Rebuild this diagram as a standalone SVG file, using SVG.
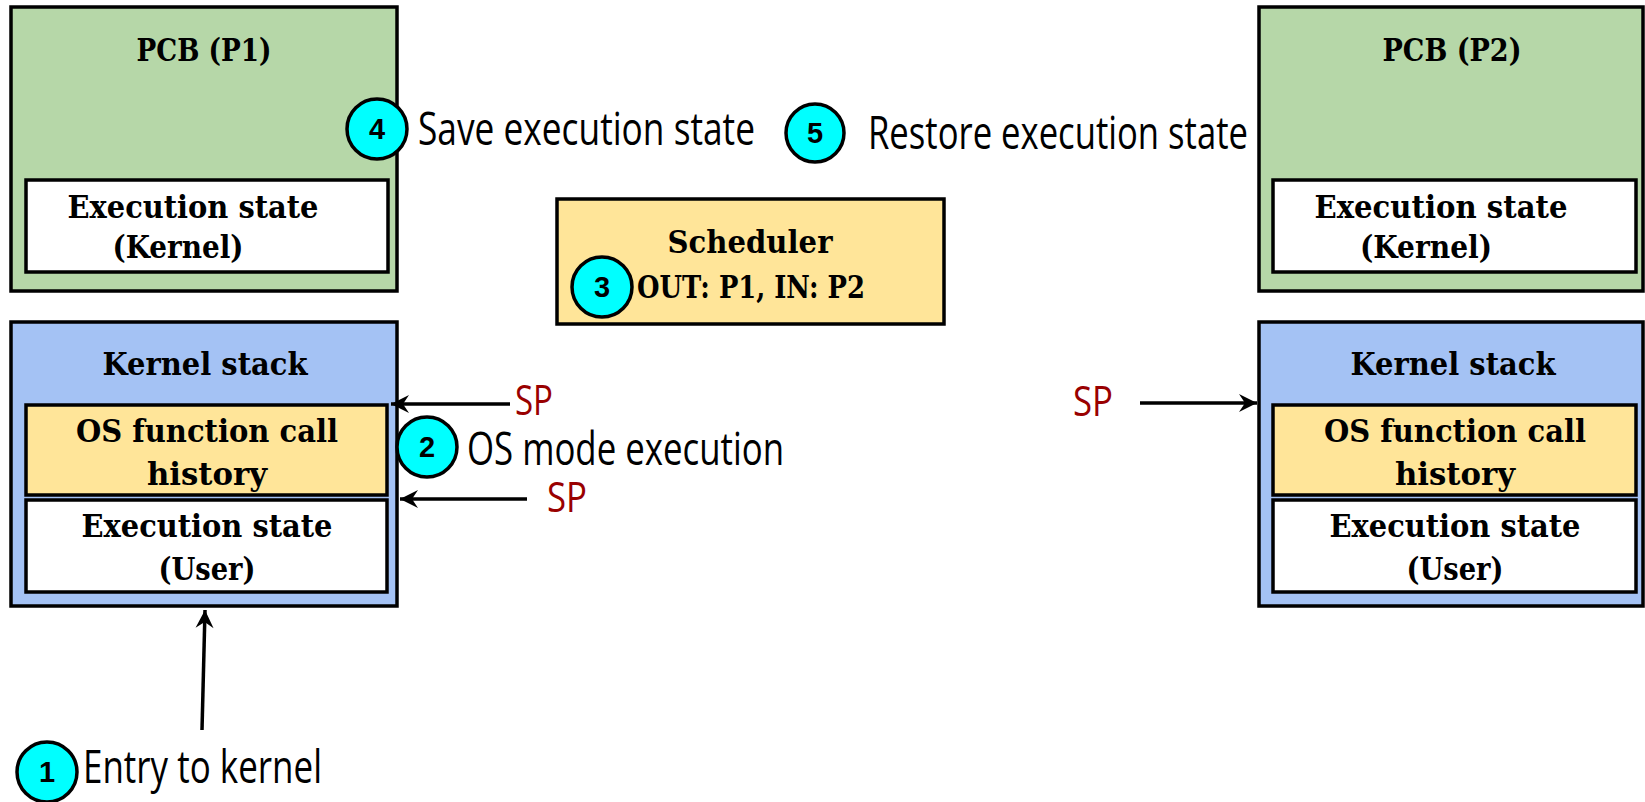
<svg xmlns="http://www.w3.org/2000/svg" width="1645" height="802" viewBox="0 0 1645 802">
<style>
.box{stroke:#000;stroke-width:3.5}
.pcb{fill:#b6d7a8}
.stk{fill:#a4c2f4}
.yel{fill:#ffe599}
.wht{fill:#fff}
.t{font-family:"DejaVu Serif",serif;font-weight:bold;font-size:31px;fill:#000;text-anchor:middle}
.c{font-family:"Open Sans","DejaVu Sans",sans-serif;font-weight:400;font-size:46px;fill:#000}
.sp{font-family:"Open Sans","DejaVu Sans",sans-serif;font-weight:400;font-size:42px;fill:#990000}
.num circle{fill:#00ffff;stroke:#000;stroke-width:3.5}
.num text{font-family:"Liberation Sans",Arial,sans-serif;font-weight:bold;font-size:29px;fill:#000;text-anchor:middle}
.arr{stroke:#000;stroke-width:3.5;fill:none;marker-end:url(#ah)}
</style>
<defs>
<marker id="ah" markerUnits="userSpaceOnUse" markerWidth="24" markerHeight="24" viewBox="-20 -12 24 24" refX="0" refY="0" orient="auto">
<path d="M0,0 L-18,-9 L-12,0 L-18,9 Z" fill="#000"/>
</marker>
</defs>
<rect width="1645" height="802" fill="#fff"/>

<g id="pcb-p1">
<rect class="box pcb" x="11" y="7" width="386" height="284"/>
<text class="t" x="204" y="61" textLength="135" lengthAdjust="spacingAndGlyphs">PCB (P1)</text>
<rect class="box wht" x="26" y="180" width="362" height="92"/>
<text class="t" x="193" y="218" textLength="251" lengthAdjust="spacingAndGlyphs">Execution state</text>
<text class="t" x="178" y="258" textLength="131" lengthAdjust="spacingAndGlyphs">(Kernel)</text>
</g>

<g id="pcb-p2">
<rect class="box pcb" x="1259" y="7" width="384" height="284"/>
<text class="t" x="1452" y="61" textLength="139" lengthAdjust="spacingAndGlyphs">PCB (P2)</text>
<rect class="box wht" x="1273" y="180" width="363" height="92"/>
<text class="t" x="1441" y="218" textLength="253" lengthAdjust="spacingAndGlyphs">Execution state</text>
<text class="t" x="1426" y="258" textLength="132" lengthAdjust="spacingAndGlyphs">(Kernel)</text>
</g>

<g id="stack-p1">
<rect class="box stk" x="11" y="322" width="386" height="284"/>
<text class="t" x="205" y="375" textLength="205" lengthAdjust="spacingAndGlyphs">Kernel stack</text>
<rect class="box yel" x="26" y="405" width="361" height="90"/>
<text class="t" x="207" y="442" textLength="262" lengthAdjust="spacingAndGlyphs">OS function call</text>
<text class="t" x="207" y="485" textLength="120" lengthAdjust="spacingAndGlyphs">history</text>
<rect class="box wht" x="26" y="500" width="361" height="92"/>
<text class="t" x="207" y="537" textLength="251" lengthAdjust="spacingAndGlyphs">Execution state</text>
<text class="t" x="207" y="580" textLength="97" lengthAdjust="spacingAndGlyphs">(User)</text>
</g>

<g id="stack-p2">
<rect class="box stk" x="1259" y="322" width="384" height="284"/>
<text class="t" x="1453" y="375" textLength="205" lengthAdjust="spacingAndGlyphs">Kernel stack</text>
<rect class="box yel" x="1273" y="405" width="363" height="90"/>
<text class="t" x="1455" y="442" textLength="262" lengthAdjust="spacingAndGlyphs">OS function call</text>
<text class="t" x="1455" y="485" textLength="120" lengthAdjust="spacingAndGlyphs">history</text>
<rect class="box wht" x="1273" y="500" width="363" height="92"/>
<text class="t" x="1455" y="537" textLength="251" lengthAdjust="spacingAndGlyphs">Execution state</text>
<text class="t" x="1455" y="580" textLength="97" lengthAdjust="spacingAndGlyphs">(User)</text>
</g>

<g id="scheduler">
<rect class="box yel" x="557" y="199" width="387" height="125"/>
<text class="t" x="750" y="253" textLength="165" lengthAdjust="spacingAndGlyphs">Scheduler</text>
<text class="t" x="751" y="298" textLength="228" lengthAdjust="spacingAndGlyphs">OUT: P1, IN: P2</text>
</g>

<g id="connectors">
<line class="arr" x1="510" y1="404" x2="391" y2="404"/>
<line class="arr" x1="527" y1="499" x2="400" y2="499"/>
<line class="arr" x1="1140" y1="403" x2="1257" y2="403"/>
<line class="arr" x1="202" y1="730" x2="205" y2="610"/>
</g>

<g id="labels">
<text class="sp" x="515" y="415" textLength="38" lengthAdjust="spacingAndGlyphs">SP</text>
<text class="sp" x="547" y="512" textLength="40" lengthAdjust="spacingAndGlyphs">SP</text>
<text class="sp" x="1073" y="416" textLength="40" lengthAdjust="spacingAndGlyphs">SP</text>
<text class="c" x="418" y="145" textLength="337" lengthAdjust="spacingAndGlyphs">Save execution state</text>
<text class="c" x="868" y="149" textLength="380" lengthAdjust="spacingAndGlyphs">Restore execution state</text>
<text class="c" x="467" y="465" textLength="317" lengthAdjust="spacingAndGlyphs">OS mode execution</text>
<text class="c" x="83" y="783" textLength="239" lengthAdjust="spacingAndGlyphs">Entry to kernel</text>
</g>

<g id="step-1" class="num"><circle cx="47" cy="772" r="30"/><text x="47" y="782">1</text></g>
<g id="step-2" class="num"><circle cx="427" cy="447" r="30"/><text x="427" y="457">2</text></g>
<g id="step-3" class="num"><circle cx="602" cy="287" r="30"/><text x="602" y="297">3</text></g>
<g id="step-4" class="num"><circle cx="377" cy="129" r="30"/><text x="377" y="139">4</text></g>
<g id="step-5" class="num"><circle cx="815" cy="133" r="29"/><text x="815" y="143">5</text></g>
</svg>
